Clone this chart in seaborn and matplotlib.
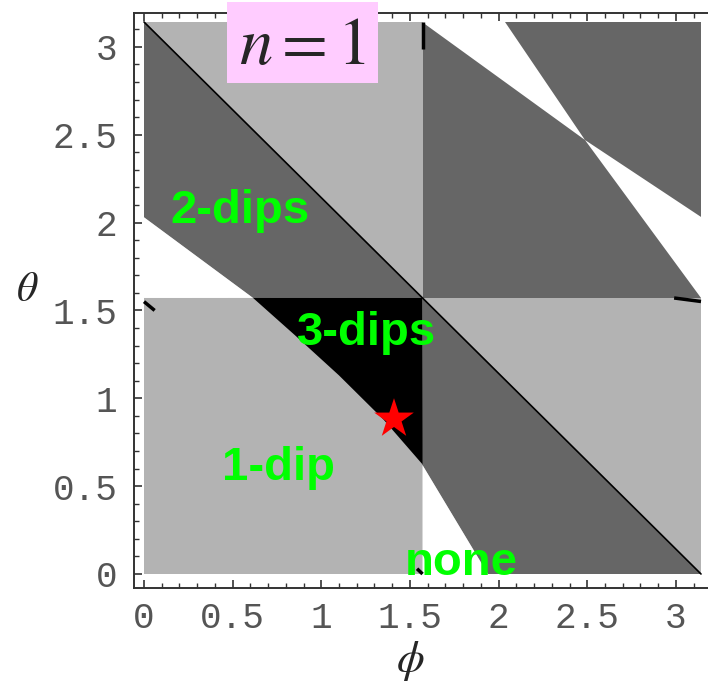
import numpy as np
import pandas as pd
import seaborn as sns
import matplotlib.pyplot as plt
from matplotlib.patches import Rectangle
from matplotlib.ticker import MultipleLocator

# boundary curve (phi, theta): white/black edge
curve_phi   = [0.0, 0.615, 0.85, 1.10, 1.35, 1.574, 1.94]
curve_theta = [2.03, 1.571, 1.36, 1.13, 0.88, 0.620, 0.0]

# white bow-tie in the upper right quadrant
wedge_top_phi   = [1.568, 2.036]      # where the upper wedge meets theta = pi
wedge_right_th  = [2.032, 1.571]      # where the lower wedge meets phi = pi
wedge_apex      = [2.487, 2.470]

star_pt = [1.41, 0.882]

labels      = ["2-dips", "3-dips", "1-dip", "none"]
label_phi   = [0.541, 1.258, 0.756, 1.788]
label_theta = [1.998, 1.303, 0.535, -0.006]

ticks_major = [0, 0.5, 1, 1.5, 2, 2.5, 3]
tick_text   = ["0", "0.5", "1", "1.5", "2", "2.5", "3"]

LIGHT = "#b3b3b3"
DARK = "#666666"
GREEN = "#00ff00"

sns.set_style("ticks")
plt.rcParams.update({
    "mathtext.fontset": "stix",
    "axes.linewidth": 1.4,
})

P = np.pi
H = np.pi / 2

fig = plt.figure(figsize=(7.08, 6.85), dpi=100)
ax = fig.add_axes([134 / 708, 97 / 685, 578 / 708, 575 / 685])

# background square = light gray
ax.fill([0, P, P, 0], [0, 0, P, P], color=LIGHT, lw=0, zorder=1)

# upper left: dark below the anti-diagonal, white under the curve
ax.fill([0, H, curve_phi[1], curve_phi[0]], [P, H, curve_theta[1], curve_theta[0]],
        color=DARK, lw=0, zorder=2)
ax.fill([0, curve_phi[1], curve_phi[0]], [H, curve_theta[1], curve_theta[0]],
        color="white", lw=0, zorder=3)

# upper right: dark square with white bow-tie
ax.fill([H, P, P, H], [H, H, P, P], color=DARK, lw=0, zorder=2)
ax.fill([wedge_top_phi[0], wedge_top_phi[1], wedge_apex[0]], [P, P, wedge_apex[1]],
        color="white", lw=0, zorder=3)
ax.fill([P, P, wedge_apex[0]], [wedge_right_th[0], wedge_right_th[1], wedge_apex[1]],
        color="white", lw=0, zorder=3)

# lower left: black region above the curve
mid = slice(1, 6)
bx = curve_phi[mid] + [H]
by = curve_theta[mid] + [H]
ax.fill(bx, by, color="black", lw=0, zorder=2)

# lower right: dark below the anti-diagonal, white under the curve
ax.fill([H, P, curve_phi[6], H], [H, 0, curve_theta[6], curve_theta[5]],
        color=DARK, lw=0, zorder=2)
ax.fill([H, curve_phi[6], H], [0, curve_theta[6], curve_theta[5]],
        color="white", lw=0, zorder=3)

# anti-diagonal boundary
diag = pd.DataFrame({"phi": [0, P], "theta": [P, 0]})
sns.lineplot(data=diag, x="phi", y="theta", color="black", lw=1.2, ax=ax, zorder=4)

# small boundary marks
marks = [([H, H], [2.99, P]), ([2.99, P], [H, H - 0.02]),
         ([0.0, 0.06], [1.55, 1.50]), ([1.54, 1.571], [0.03, 0.0])]
for mx, my in marks:
    ax.plot(mx, my, color="black", lw=2.5, zorder=4, solid_capstyle="butt")

star = pd.DataFrame({"phi": [star_pt[0]], "theta": [star_pt[1]]})
sns.scatterplot(data=star, x="phi", y="theta", marker="*", s=900, color="red",
                edgecolor="none", ax=ax, zorder=6)

for t, x, y in zip(labels, label_phi, label_theta):
    ax.text(x, y, t, color=GREEN, fontsize=34, fontweight="bold",
            family="Liberation Sans", ha="center", va="baseline", zorder=7)

ax.set_xlim(-0.0564, P + 0.062)
ax.set_ylim(-0.0797, P + 0.051)
ax.set_xticks(ticks_major)
ax.set_xticklabels(tick_text)
ax.set_yticks(ticks_major)
ax.set_yticklabels(tick_text)
ax.xaxis.set_minor_locator(MultipleLocator(0.1))
ax.yaxis.set_minor_locator(MultipleLocator(0.1))
ax.tick_params(which="both", direction="in", top=True, right=False, color="#333333")
ax.tick_params(which="major", length=6, width=1.2)
ax.tick_params(which="minor", length=3.5, width=1.0)
ax.tick_params(axis="x", pad=9)
ax.tick_params(axis="y", pad=12)
for lab in ax.get_xticklabels() + ax.get_yticklabels():
    lab.set_family("Liberation Mono")
    lab.set_fontsize(26)
    lab.set_color("#555555")
for s in ["left", "bottom", "top"]:
    ax.spines[s].set_color("#333333")
ax.spines["right"].set_visible(False)

ax.set_xlabel(r"$\phi$", fontsize=32, va="center")
ax.xaxis.set_label_coords(0.478, -0.127)
ax.set_ylabel(r"$\theta$", fontsize=30, rotation=0, ha="center", va="center")
ax.yaxis.set_label_coords(-0.185, 0.52)

fig.patches.append(Rectangle((227 / 708, 602 / 685), 151 / 708, 81 / 685,
                             transform=fig.transFigure, facecolor="#ffccff",
                             edgecolor="none", zorder=5))
fig.text(302 / 708, 640 / 685, r"$n=1$", fontsize=48, ha="center", va="center", zorder=6)

fig.savefig("out.png", dpi=100)
